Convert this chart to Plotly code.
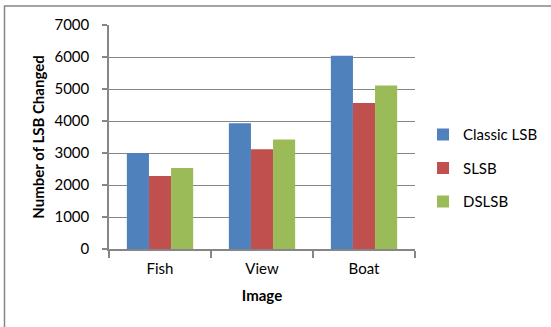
import plotly.graph_objects as go

categories = ["Fish", "View", "Boat"]
series_names = ["Classic LSB", "SLSB", "DSLSB"]
classic_lsb = [3000, 3930, 6040]
slsb = [2280, 3120, 4560]
dslsb = [2530, 3420, 5110]
colors = ["#4F81BD", "#C0504D", "#9BBB59"]
y_ticks = [0, 1000, 2000, 3000, 4000, 5000, 6000, 7000]

W, H = 551, 327
L, R, T, B = 109, 136, 24.5, 78

fig = go.Figure()
for name, vals, c in zip(series_names, [classic_lsb, slsb, dslsb], colors):
    fig.add_trace(go.Bar(x=categories, y=vals, name=name, legendgroup=name,
                         marker=dict(color=c, line=dict(width=0))))

pw = W - L - R
ph = H - T - B
FS = 15
fig.update_layout(
    width=W, height=H,
    margin=dict(l=L, r=R, t=T, b=B, pad=0, autoexpand=False),
    paper_bgcolor="white", plot_bgcolor="white",
    barmode="group", bargap=0.35, bargroupgap=0,
    font=dict(family="Lato, Open Sans, sans-serif", size=FS, color="#000"),
    showlegend=True,
    legend=dict(x=(423 - L) / pw, y=(249 - 118) / ph, xanchor="left", yanchor="top",
                font=dict(size=FS), tracegroupgap=11, itemwidth=30, bgcolor="rgba(0,0,0,0)"),
    xaxis=dict(showline=True, linecolor="#868686", linewidth=1.5, ticks="outside",
               tickson="boundaries", ticklen=7, tickcolor="#868686", tickwidth=1.5,
               ticklabelstandoff=5,
               title=dict(text="<b>Image</b>", font=dict(size=FS), standoff=15),
               tickfont=dict(size=FS)),
    yaxis=dict(range=[0, 7000], tickvals=y_ticks, showline=True, linecolor="#868686", linewidth=1.5,
               ticks="outside", ticklen=5, tickcolor="#868686", tickwidth=1.5,
               ticklabelstandoff=10,
               showgrid=True, gridcolor="#868686", gridwidth=1.2, zeroline=False,
               title=dict(text="<b>Number of LSB Changed</b>", font=dict(size=FS), standoff=6),
               tickfont=dict(size=FS)),
    shapes=[dict(type="rect", xref="paper", yref="paper",
                 x0=(4.5 - L) / pw, x1=(W + 80 - L) / pw,
                 y0=-(B + 80) / ph, y1=(H - B - 5.5) / ph,
                 line=dict(color="#868686", width=1.5), fillcolor="rgba(0,0,0,0)", layer="below")],
)
fig.write_html("out.html")
